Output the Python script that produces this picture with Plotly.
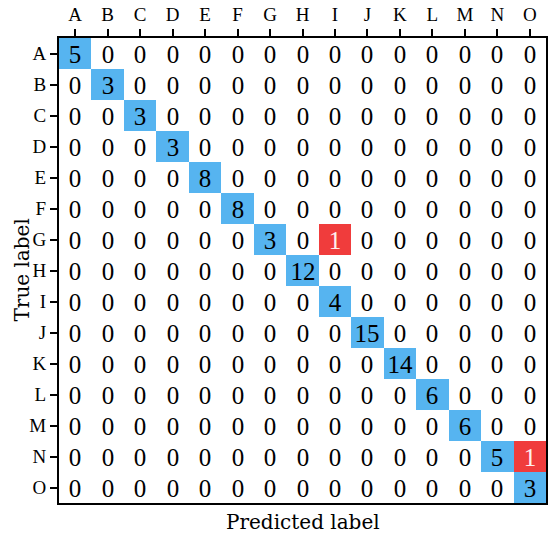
import plotly.graph_objects as go

labels = ["A", "B", "C", "D", "E", "F", "G", "H", "I", "J", "K", "L", "M", "N", "O"]
diagonal = [5, 3, 3, 3, 8, 8, 3, 12, 4, 15, 14, 6, 6, 5, 3]
# misclassified cells: (true, predicted, count)
errors = [("G", "I", 1), ("N", "O", 1)]

n = len(labels)
counts = [[0] * n for _ in range(n)]
for i, v in enumerate(diagonal):
    counts[i][i] = v
for t, p, v in errors:
    counts[labels.index(t)][labels.index(p)] = v

# 0 = empty, 1 = correct (diagonal), 2 = wrong
kind = [[(1 if i == j else 2) if counts[i][j] > 0 else 0 for j in range(n)] for i in range(n)]
red_z = [[1 if kind[i][j] == 2 else None for j in range(n)] for i in range(n)]
dark_text = [["" if kind[i][j] == 2 else str(counts[i][j]) for j in range(n)] for i in range(n)]
light_text = [[str(counts[i][j]) if kind[i][j] == 2 else "" for j in range(n)] for i in range(n)]

FONT = "Liberation Serif"
TITLE_FONT = "DejaVu Serif"

fig = go.Figure()

fig.add_trace(go.Heatmap(
    x=labels, y=labels, z=kind, text=dark_text,
    texttemplate="%{text}",
    textfont=dict(size=25, color="black", family=FONT),
    colorscale=[[0, "#ffffff"], [0.5, "#56b4f0"], [1, "#f03c3c"]],
    zmin=0, zmax=2, showscale=False, hoverinfo="skip",
))

fig.add_trace(go.Heatmap(
    x=labels, y=labels, z=red_z, text=light_text,
    texttemplate="%{text}",
    textfont=dict(size=25, color="#fff0f0", family=FONT),
    colorscale=[[0, "#f03c3c"], [1, "#f03c3c"]],
    showscale=False, hoverinfo="skip",
))

fig.update_layout(
    width=550, height=538,
    margin=dict(l=58.7, r=1.7, t=37.5, b=34.5),
    plot_bgcolor="white",
    paper_bgcolor="white",
    font=dict(family=FONT, color="black", size=19),
    xaxis=dict(
        side="top", ticks="outside", ticklen=7, tickwidth=2, tickcolor="black",
        showline=True, linecolor="black", linewidth=2, mirror=True,
        showgrid=False, zeroline=False,
    ),
    yaxis=dict(
        autorange="reversed", ticks="outside", ticklen=7, tickwidth=2, tickcolor="black",
        showline=True, linecolor="black", linewidth=2, mirror=True,
        showgrid=False, zeroline=False,
    ),
    annotations=[
        dict(text="Predicted label", x=0.5, y=-0.04, xref="paper", yref="paper",
             xanchor="center", yanchor="middle", showarrow=False,
             font=dict(size=20, family=TITLE_FONT)),
        dict(text="True label", x=-0.078, y=0.5, xref="paper", yref="paper",
             xanchor="center", yanchor="middle", textangle=-90, showarrow=False,
             font=dict(size=20, family=TITLE_FONT)),
    ],
)

# drop the default body margin so the figure fills the window exactly
fig.write_html("out.html", config={"displayModeBar": False},
               post_script="document.body.style.margin='0px';")
